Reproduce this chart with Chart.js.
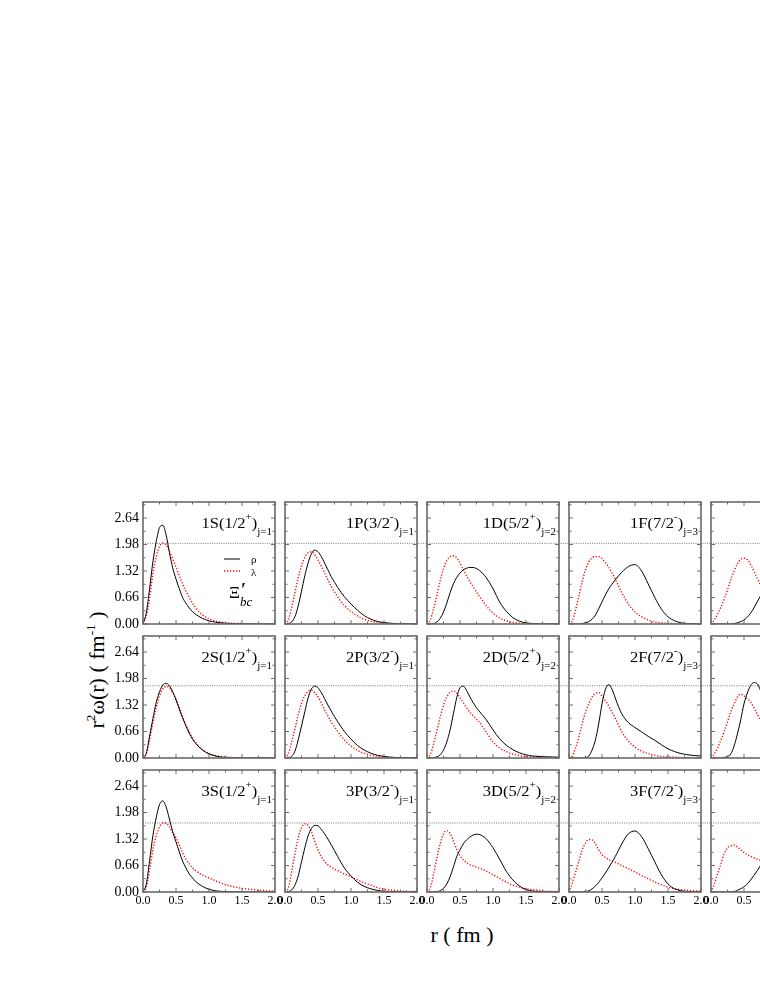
<!DOCTYPE html>
<html>
<head>
<meta charset="utf-8">
<script src="https://cdn.jsdelivr.net/npm/chart.js@4.4.0/dist/chart.umd.min.js"></script>
<style>
  body { margin: 0; background: #fff; }
  #fig { position: relative; width: 760px; height: 984px; overflow: hidden; font-family: "Liberation Serif", "Times New Roman", serif; }
  #fig canvas { position: absolute; }
  #ytitle { position: absolute; left: 97px; top: 670px; transform: translate(-50%, -50%) rotate(-90deg); white-space: nowrap; font-size: 22px; line-height: 24px; }
  #xtitle { position: absolute; left: 462px; top: 923px; transform: translateX(-50%); white-space: nowrap; font-size: 22px; line-height: 24px; }
  sup { font-size: 60%; vertical-align: 0.7em; line-height: 0; }
</style>
</head>
<body>
<div id="fig">
  <div id="ytitle">r<sup>2</sup>ω(r) ( fm<sup>-1</sup> )</div>
  <div id="xtitle">r ( fm )</div>
</div>
<script>
// radial grid (fm) shared by every curve
const rGrid = [0, 0.05, 0.1, 0.15, 0.2, 0.25, 0.3, 0.35, 0.4, 0.45, 0.5, 0.55, 0.6, 0.65, 0.7, 0.75, 0.8, 0.9, 1.0, 1.1, 1.2, 1.3, 1.4, 1.5, 1.6, 1.7, 1.8, 1.9, 2.0];

// n = 1
const rho1S = [0, 0.28, 0.88, 1.55, 2.05, 2.40, 2.46, 2.22, 1.78, 1.40, 1.12, 0.88, 0.66, 0.52, 0.40, 0.31, 0.24, 0.14, 0.08, 0.045, 0.025, 0.013, 0.007, 0.004, 0.002, 0.001, 0, 0, 0];
const lam1S = [0, 0.2, 0.65, 1.25, 1.68, 1.93, 2.02, 1.97, 1.82, 1.62, 1.42, 1.20, 1.0, 0.82, 0.66, 0.52, 0.40, 0.23, 0.13, 0.075, 0.045, 0.027, 0.016, 0.009, 0.005, 0.003, 0.002, 0.001, 0];
const rho1P = [0, 0.01, 0.05, 0.18, 0.45, 0.82, 1.2, 1.52, 1.75, 1.84, 1.80, 1.68, 1.52, 1.35, 1.18, 1.04, 0.91, 0.68, 0.50, 0.34, 0.21, 0.12, 0.065, 0.035, 0.018, 0.009, 0.005, 0.002, 0];
const lam1P = [0, 0.1, 0.4, 0.78, 1.15, 1.45, 1.66, 1.78, 1.80, 1.73, 1.60, 1.44, 1.27, 1.10, 0.94, 0.80, 0.67, 0.46, 0.31, 0.2, 0.12, 0.07, 0.04, 0.022, 0.012, 0.006, 0.003, 0.001, 0];
const rho1D = [0, 0, 0.01, 0.05, 0.14, 0.3, 0.52, 0.78, 1.0, 1.16, 1.27, 1.35, 1.39, 1.41, 1.41, 1.38, 1.33, 1.15, 0.88, 0.55, 0.32, 0.16, 0.07, 0.03, 0.012, 0.005, 0.002, 0.001, 0];
const lam1D = [0, 0.1, 0.38, 0.72, 1.08, 1.38, 1.58, 1.68, 1.70, 1.65, 1.52, 1.36, 1.20, 1.05, 0.92, 0.8, 0.68, 0.45, 0.27, 0.15, 0.08, 0.04, 0.02, 0.01, 0.005, 0.002, 0.001, 0, 0];
const rho1F = [0, 0, 0, 0, 0.01, 0.03, 0.06, 0.12, 0.22, 0.38, 0.55, 0.72, 0.87, 0.99, 1.1, 1.2, 1.29, 1.43, 1.48, 1.32, 1.0, 0.66, 0.37, 0.18, 0.08, 0.03, 0.01, 0.004, 0];
const lam1F = [0, 0.08, 0.35, 0.7, 1.05, 1.35, 1.55, 1.65, 1.68, 1.68, 1.63, 1.53, 1.42, 1.28, 1.12, 0.95, 0.78, 0.5, 0.3, 0.18, 0.1, 0.05, 0.03, 0.015, 0.008, 0.004, 0.002, 0.001, 0];
const rho1G = [0, 0, 0, 0, 0, 0, 0, 0.01, 0.03, 0.06, 0.1, 0.17, 0.27, 0.4, 0.55, 0.7, 0.85, 1.12, 1.3, 1.36, 1.26, 1.02, 0.72, 0.44, 0.23, 0.1, 0.04, 0.015, 0.005];
const lam1G = [0, 0.1, 0.25, 0.42, 0.62, 0.85, 1.1, 1.32, 1.5, 1.61, 1.64, 1.6, 1.48, 1.32, 1.14, 0.98, 0.82, 0.55, 0.34, 0.2, 0.11, 0.06, 0.03, 0.015, 0.008, 0.004, 0.002, 0.001, 0];

// n = 2
const rho2S = [0, 0.12, 0.55, 0.98, 1.38, 1.65, 1.82, 1.86, 1.8, 1.65, 1.45, 1.22, 1.0, 0.8, 0.62, 0.47, 0.36, 0.2, 0.1, 0.05, 0.02, 0.01, 0.005, 0.002, 0.001, 0, 0, 0, 0];
const lam2S = [0, 0.1, 0.45, 0.88, 1.25, 1.55, 1.72, 1.78, 1.75, 1.63, 1.46, 1.25, 1.03, 0.83, 0.65, 0.5, 0.38, 0.21, 0.11, 0.06, 0.03, 0.015, 0.007, 0.003, 0.001, 0, 0, 0, 0];
const rho2P = [0, 0.01, 0.04, 0.17, 0.45, 0.8, 1.15, 1.5, 1.72, 1.79, 1.75, 1.63, 1.48, 1.32, 1.17, 1.03, 0.9, 0.66, 0.47, 0.31, 0.2, 0.12, 0.07, 0.04, 0.02, 0.01, 0.006, 0.003, 0];
const lam2P = [0, 0.1, 0.4, 0.72, 1.08, 1.36, 1.55, 1.66, 1.69, 1.63, 1.52, 1.37, 1.2, 1.05, 0.9, 0.78, 0.66, 0.45, 0.3, 0.19, 0.12, 0.07, 0.04, 0.022, 0.012, 0.006, 0.003, 0.001, 0];
const rho2D = [0, 0, 0.01, 0.03, 0.08, 0.2, 0.4, 0.7, 1.1, 1.5, 1.75, 1.79, 1.68, 1.52, 1.38, 1.25, 1.15, 0.95, 0.7, 0.48, 0.32, 0.21, 0.13, 0.08, 0.05, 0.04, 0.03, 0.025, 0.02];
const lam2D = [0, 0.08, 0.35, 0.68, 1.02, 1.32, 1.52, 1.64, 1.67, 1.62, 1.5, 1.38, 1.25, 1.14, 1.05, 0.97, 0.88, 0.64, 0.4, 0.25, 0.16, 0.1, 0.06, 0.04, 0.03, 0.02, 0.01, 0.01, 0.01];
const rho2F = [0, 0, 0, 0, 0, 0.01, 0.05, 0.2, 0.45, 0.85, 1.35, 1.7, 1.83, 1.72, 1.5, 1.28, 1.1, 0.88, 0.76, 0.65, 0.54, 0.44, 0.33, 0.23, 0.16, 0.11, 0.08, 0.06, 0.05];
const lam2F = [0, 0.05, 0.25, 0.52, 0.85, 1.15, 1.35, 1.52, 1.61, 1.63, 1.55, 1.43, 1.3, 1.15, 1.0, 0.82, 0.65, 0.42, 0.27, 0.17, 0.11, 0.07, 0.04, 0.03, 0.02, 0.01, 0.005, 0.002, 0];
const rho2G = [0, 0, 0, 0, 0.01, 0.04, 0.1, 0.3, 0.6, 0.95, 1.35, 1.62, 1.8, 1.88, 1.85, 1.68, 1.45, 1.05, 0.8, 0.65, 0.52, 0.4, 0.3, 0.22, 0.15, 0.11, 0.08, 0.06, 0.04];
const lam2G = [0, 0.1, 0.25, 0.45, 0.66, 0.9, 1.15, 1.35, 1.52, 1.59, 1.55, 1.48, 1.4, 1.25, 1.1, 0.95, 0.8, 0.55, 0.35, 0.22, 0.15, 0.1, 0.06, 0.04, 0.02, 0.01, 0.005, 0.002, 0];

// n = 3
const rho3S = [0, 0.2, 0.78, 1.4, 1.85, 2.18, 2.27, 2.12, 1.82, 1.5, 1.25, 1.0, 0.77, 0.6, 0.45, 0.35, 0.26, 0.14, 0.07, 0.03, 0.015, 0.008, 0.004, 0.002, 0.001, 0, 0, 0, 0];
const lam3S = [0, 0.12, 0.55, 1.05, 1.4, 1.62, 1.72, 1.72, 1.62, 1.48, 1.35, 1.17, 0.98, 0.82, 0.7, 0.6, 0.53, 0.42, 0.35, 0.28, 0.21, 0.16, 0.12, 0.09, 0.07, 0.05, 0.04, 0.03, 0.02];
const rho3P = [0, 0.01, 0.05, 0.17, 0.4, 0.75, 1.1, 1.4, 1.58, 1.66, 1.65, 1.56, 1.45, 1.32, 1.18, 1.03, 0.88, 0.6, 0.4, 0.24, 0.14, 0.08, 0.04, 0.02, 0.01, 0.005, 0.002, 0.001, 0];
const lam3P = [0, 0.1, 0.5, 0.95, 1.35, 1.6, 1.7, 1.66, 1.5, 1.27, 1.05, 0.88, 0.76, 0.68, 0.62, 0.57, 0.53, 0.45, 0.38, 0.3, 0.23, 0.17, 0.11, 0.07, 0.05, 0.035, 0.02, 0.015, 0.01];
const rho3D = [0, 0, 0.005, 0.01, 0.03, 0.09, 0.2, 0.38, 0.62, 0.88, 1.05, 1.2, 1.3, 1.37, 1.42, 1.44, 1.43, 1.32, 1.1, 0.82, 0.52, 0.3, 0.15, 0.06, 0.025, 0.01, 0.005, 0.002, 0];
const lam3D = [0, 0.1, 0.45, 0.85, 1.2, 1.45, 1.53, 1.46, 1.28, 1.06, 0.9, 0.8, 0.73, 0.68, 0.65, 0.62, 0.59, 0.52, 0.43, 0.34, 0.25, 0.17, 0.12, 0.08, 0.06, 0.04, 0.02, 0.015, 0.01];
const rho3F = [0, 0, 0, 0, 0, 0.01, 0.03, 0.08, 0.15, 0.24, 0.35, 0.47, 0.6, 0.74, 0.88, 1.04, 1.2, 1.45, 1.52, 1.38, 1.08, 0.75, 0.43, 0.2, 0.08, 0.03, 0.01, 0.004, 0];
const lam3F = [0, 0.22, 0.5, 0.77, 1.05, 1.22, 1.31, 1.3, 1.2, 1.05, 0.93, 0.86, 0.81, 0.77, 0.74, 0.7, 0.66, 0.58, 0.5, 0.41, 0.33, 0.25, 0.18, 0.12, 0.08, 0.06, 0.04, 0.03, 0.02];
const rho3G = [0, 0, 0, 0, 0, 0, 0, 0.01, 0.04, 0.08, 0.13, 0.2, 0.3, 0.41, 0.53, 0.66, 0.8, 1.05, 1.22, 1.28, 1.2, 0.98, 0.68, 0.4, 0.2, 0.09, 0.04, 0.015, 0.005];
const lam3G = [0, 0.2, 0.45, 0.7, 0.95, 1.1, 1.15, 1.17, 1.12, 1.05, 0.98, 0.93, 0.89, 0.85, 0.82, 0.79, 0.76, 0.68, 0.6, 0.51, 0.42, 0.33, 0.25, 0.18, 0.12, 0.08, 0.05, 0.03, 0.02];

// panel labels: [text, superscript, close, subscript]
const panelLabels = [
  ['1S(1/2', '+', ')', 'j=1'], ['1P(3/2', '-', ')', 'j=1'], ['1D(5/2', '+', ')', 'j=2'], ['1F(7/2', '-', ')', 'j=3'], ['1G(9/2', '+', ')', 'j=4'],
  ['2S(1/2', '+', ')', 'j=1'], ['2P(3/2', '-', ')', 'j=1'], ['2D(5/2', '+', ')', 'j=2'], ['2F(7/2', '-', ')', 'j=3'], ['2G(9/2', '+', ')', 'j=4'],
  ['3S(1/2', '+', ')', 'j=1'], ['3P(3/2', '-', ')', 'j=1'], ['3D(5/2', '+', ')', 'j=2'], ['3F(7/2', '-', ')', 'j=3'], ['3G(9/2', '+', ')', 'j=4']
];
const rhoSeries = [rho1S, rho1P, rho1D, rho1F, rho1G, rho2S, rho2P, rho2D, rho2F, rho2G, rho3S, rho3P, rho3D, rho3F, rho3G];
const lamSeries = [lam1S, lam1P, lam1D, lam1F, lam1G, lam2S, lam2P, lam2D, lam2F, lam2G, lam3S, lam3P, lam3D, lam3F, lam3G];
const legendLabels = ['ρ', 'λ'];

const xTickVals = [0, 0.5, 1.0, 1.5, 2.0];
const yTickVals = [0, 0.66, 1.32, 1.98, 2.64];
const Y_MAX = 3.04;
const refLevels = [2.01, 1.80, 1.72];   // dotted reference line per row
const refSpan = [0, 2.16];

// layout (px)
const colLeft = [143, 285, 427, 569, 711];
const rowTop = [502, 636, 770];
const PW = 132, PH = 122;
const PAD_L = 46, PAD_T = 4, PAD_R = 14, PAD_B = 22;

const FONT = '"Liberation Serif", "Times New Roman", serif';
const frameColor = '#6a6a6a';
const lamDash = [1.2, 1.8];

const panelDecor = {
  id: 'panelDecor',
  afterDatasetsDraw(chart, args, opts) {
    const { ctx, chartArea: a, scales: { x, y } } = chart;
    ctx.save();
    // inward ticks on all four sides
    ctx.strokeStyle = frameColor;
    ctx.lineWidth = 1;
    ctx.setLineDash([]);
    ctx.beginPath();
    const xs = xTickVals[1] - xTickVals[0];
    for (let v = 0; v <= x.max + 1e-9; v += xs / 2) {
      const len = Math.abs(v / xs - Math.round(v / xs)) < 1e-6 ? 4 : 2.5;
      const px = x.getPixelForValue(v);
      ctx.moveTo(px, a.bottom); ctx.lineTo(px, a.bottom - len);
      ctx.moveTo(px, a.top); ctx.lineTo(px, a.top + len);
    }
    const ys = yTickVals[1] - yTickVals[0];
    for (let v = 0; v <= y.max + 1e-9; v += ys / 2) {
      const len = Math.abs(v / ys - Math.round(v / ys)) < 1e-6 ? 4 : 2.5;
      const py = y.getPixelForValue(v);
      ctx.moveTo(a.left, py); ctx.lineTo(a.left + len, py);
      ctx.moveTo(a.right, py); ctx.lineTo(a.right - len, py);
    }
    ctx.stroke();
    // frame
    ctx.lineWidth = 1.6;
    ctx.strokeRect(a.left, a.top, a.right - a.left, a.bottom - a.top);

    // panel label
    const [main, sup, close, sub] = opts.label;
    const fMain = '15px ' + FONT, fSmall = '10px ' + FONT;
    ctx.fillStyle = '#000';
    ctx.textBaseline = 'alphabetic';
    ctx.textAlign = 'left';
    ctx.font = fMain;
    const w1 = ctx.measureText(main).width, w3 = ctx.measureText(close).width;
    ctx.font = fSmall;
    const w2 = ctx.measureText(sup).width, w4 = ctx.measureText(sub).width;
    const sx = 1.1;
    ctx.save();
    ctx.translate(a.right - 3 - (w1 + w2 + w3 + w4) * sx, a.top + 26);
    ctx.scale(sx, 1);
    ctx.font = fMain; ctx.fillText(main, 0, 0);
    ctx.font = fSmall; ctx.fillText(sup, w1, -8);
    ctx.font = fMain; ctx.fillText(close, w1 + w2, 0);
    ctx.font = fSmall; ctx.fillText(sub, w1 + w2 + w3, 7);
    ctx.restore();

    // legend (first panel only)
    if (opts.legend) {
      const ds = chart.data.datasets;
      const L = a.left, T = a.top;
      ctx.lineWidth = ds[0].borderWidth;
      ctx.strokeStyle = ds[0].borderColor;
      ctx.beginPath(); ctx.moveTo(L + 81, T + 57); ctx.lineTo(L + 97, T + 57); ctx.stroke();
      ctx.lineWidth = ds[1].borderWidth;
      ctx.strokeStyle = ds[1].borderColor;
      ctx.setLineDash(ds[1].borderDash);
      ctx.beginPath(); ctx.moveTo(L + 81, T + 69); ctx.lineTo(L + 97, T + 69); ctx.stroke();
      ctx.setLineDash([]);
      ctx.font = '11px ' + FONT;
      ctx.fillText(ds[0].label, L + 108, T + 61);
      ctx.fillText(ds[1].label, L + 108, T + 74);
      ctx.font = '17px ' + FONT;
      ctx.fillText('Ξ', L + 86, T + 96);
      ctx.font = 'bold 18px ' + FONT;
      ctx.fillText('′', L + 98, T + 94);
      ctx.font = 'italic 13px ' + FONT;
      ctx.fillText('bc', L + 97, T + 104);
    }
    ctx.restore();
  }
};

const fig = document.getElementById('fig');
const toPts = arr => rGrid.map((r, i) => ({ x: r, y: arr[i] }));

for (let row = 0; row < 3; row++) {
  for (let col = 0; col < 5; col++) {
    const k = row * 5 + col;
    const cv = document.createElement('canvas');
    cv.width = PAD_L + PW + PAD_R;
    cv.height = PAD_T + PH + PAD_B;
    cv.style.left = (colLeft[col] - PAD_L) + 'px';
    cv.style.top = (rowTop[row] - PAD_T) + 'px';
    fig.appendChild(cv);

    new Chart(cv, {
      type: 'line',
      data: {
        datasets: [
          { label: legendLabels[0], data: toPts(rhoSeries[k]), borderColor: '#000', borderWidth: 1, pointRadius: 0, cubicInterpolationMode: 'monotone' },
          { label: legendLabels[1], data: toPts(lamSeries[k]), borderColor: '#ff0000', borderWidth: 1.4, borderDash: lamDash, pointRadius: 0, cubicInterpolationMode: 'monotone' },
          { label: 'ref', data: refSpan.map(r => ({ x: r, y: refLevels[row] })), borderColor: '#555', borderWidth: 0.8, borderDash: [1, 1.3], pointRadius: 0, clip: false }
        ]
      },
      options: {
        responsive: false,
        animation: false,
        devicePixelRatio: 1,
        layout: { padding: { left: 0, top: PAD_T, right: PAD_R, bottom: 0 } },
        plugins: {
          legend: { display: false },
          tooltip: { enabled: false },
          panelDecor: { label: panelLabels[k], legend: k === 0 }
        },
        scales: {
          x: {
            type: 'linear', min: 0, max: 2,
            afterBuildTicks: s => { s.ticks = xTickVals.map(v => ({ value: v })); },
            afterFit: s => { s.height = PAD_B; s.paddingLeft = 0; s.paddingRight = 0; },
            grid: { display: false, drawTicks: false },
            border: { display: false },
            ticks: { display: row === 2, color: '#000', font: { family: FONT, size: 12 }, padding: 2, maxRotation: 0, autoSkip: false, callback: v => v.toFixed(1) }
          },
          y: {
            type: 'linear', min: 0, max: Y_MAX,
            afterBuildTicks: s => { s.ticks = yTickVals.map(v => ({ value: v })); },
            afterFit: s => { s.width = PAD_L; s.paddingTop = 0; s.paddingBottom = 0; },
            grid: { display: false, drawTicks: false },
            border: { display: false },
            ticks: { display: col === 0, color: '#000', font: { family: FONT, size: 14 }, padding: 4, callback: v => v.toFixed(2) }
          }
        }
      },
      plugins: [panelDecor]
    });
  }
}
</script>
</body>
</html>
